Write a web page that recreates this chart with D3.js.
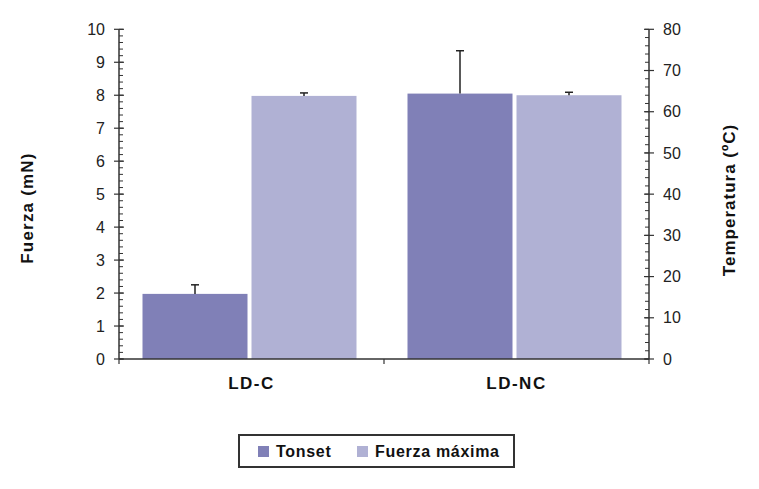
<!DOCTYPE html>
<html><head><meta charset="utf-8">
<script src="https://cdn.jsdelivr.net/npm/d3@7"></script>
<style>body{margin:0;background:#fff}svg{display:block}text{font-family:Arial,"Liberation Sans",sans-serif}</style>
</head><body>
<script>
const categories = ["LD-C", "LD-NC"];
const seriesNames = ["Tonset", "Fuerza máxima"];
const tonsetC = [15.8, 64.4];        // temperature, right axis
const tonsetErr = [2.2, 10.4];
const fuerzaMN = [7.98, 8.0];        // force, left axis
const fuerzaErr = [0.09, 0.09];
const leftTicks = [0,1,2,3,4,5,6,7,8,9,10];
const rightTicks = [0,10,20,30,40,50,60,70,80];

const W = 759, H = 489;
const x0 = 119, x1 = 649, yTop = 29.3, yBot = 359;
const colors = ["#8080b7", "#b0b1d4"];
const axisColor = "#333";

const svg = d3.select("body").append("svg").attr("width", W).attr("height", H);

const x = d3.scaleBand().domain(categories).range([x0, x1]).paddingInner(0).paddingOuter(0);
const yL = d3.scaleLinear().domain([0, 10]).range([yBot, yTop]);
const yR = d3.scaleLinear().domain([0, 80]).range([yBot, yTop]);

const barW = 105, gap = 4;
const rows = categories.map((c, i) => [
  {c, s: 0, y: yR(tonsetC[i]), e: yR(tonsetC[i] + tonsetErr[i])},
  {c, s: 1, y: yL(fuerzaMN[i]), e: yL(fuerzaMN[i] + fuerzaErr[i])}
]).flat();
const bx = d => x(d.c) + x.bandwidth()/2 - 2 + (d.s === 0 ? -gap/2 - barW : gap/2);

svg.selectAll("rect.bar").data(rows).enter().append("rect")
  .attr("x", bx).attr("y", d => d.y).attr("width", barW).attr("height", d => yBot - d.y)
  .attr("fill", d => colors[d.s]);

// error bars
const eg = svg.selectAll("g.err").data(rows).enter().append("g").attr("stroke", "#222").attr("stroke-width", 1.5);
eg.append("line").attr("x1", d => bx(d) + barW/2).attr("x2", d => bx(d) + barW/2).attr("y1", d => d.y).attr("y2", d => d.e);
eg.append("line").attr("x1", d => bx(d) + barW/2 - 4).attr("x2", d => bx(d) + barW/2 + 4).attr("y1", d => d.e).attr("y2", d => d.e);

// left axis
const gL = svg.append("g").attr("transform", `translate(${x0},0)`);
gL.append("line").attr("y1", yTop).attr("y2", yBot).attr("stroke", axisColor).attr("stroke-width", 1.5);
gL.selectAll("line.minor").data(d3.range(0, 10.001, 0.2)).enter().append("line")
  .attr("x1", 0).attr("x2", 4).attr("y1", d => yL(d)).attr("y2", d => yL(d)).attr("stroke", axisColor).attr("stroke-width", 1);
gL.selectAll("line.major").data(leftTicks).enter().append("line")
  .attr("x1", -5).attr("x2", 5).attr("y1", d => yL(d)).attr("y2", d => yL(d)).attr("stroke", axisColor).attr("stroke-width", 1.2);
gL.selectAll("text").data(leftTicks).enter().append("text")
  .attr("x", -14).attr("y", d => yL(d)).attr("dy", "0.35em").attr("text-anchor", "end")
  .attr("font-size", 16).attr("fill", "#222").text(d => d);

// right axis
const gR = svg.append("g").attr("transform", `translate(${x1},0)`);
gR.append("line").attr("y1", yTop).attr("y2", yBot).attr("stroke", axisColor).attr("stroke-width", 1.5);
gR.selectAll("line.minor").data(d3.range(0, 80.001, 2)).enter().append("line")
  .attr("x1", -4).attr("x2", 0).attr("y1", d => yR(d)).attr("y2", d => yR(d)).attr("stroke", axisColor).attr("stroke-width", 1);
gR.selectAll("line.major").data(rightTicks).enter().append("line")
  .attr("x1", -5).attr("x2", 5).attr("y1", d => yR(d)).attr("y2", d => yR(d)).attr("stroke", axisColor).attr("stroke-width", 1.2);
gR.selectAll("text").data(rightTicks).enter().append("text")
  .attr("x", 14).attr("y", d => yR(d)).attr("dy", "0.35em").attr("text-anchor", "start")
  .attr("font-size", 16).attr("fill", "#222").text(d => d);

// bottom axis
svg.append("line").attr("x1", x0).attr("x2", x1).attr("y1", yBot).attr("y2", yBot).attr("stroke", axisColor).attr("stroke-width", 1.5);
const bticks = [x0, ...categories.slice(1).map(c => x(c)), x1];
svg.selectAll("line.bt").data(bticks).enter().append("line")
  .attr("x1", d => d).attr("x2", d => d).attr("y1", yBot).attr("y2", yBot + 5).attr("stroke", axisColor).attr("stroke-width", 1.2);
svg.selectAll("text.cat").data(categories).enter().append("text")
  .attr("x", d => x(d) + x.bandwidth()/2).attr("y", 389).attr("text-anchor", "middle")
  .attr("font-size", 17).attr("letter-spacing", "1.5px").attr("font-weight", "bold").attr("fill", "#111").text(d => d);

// axis titles
svg.append("text").attr("transform", "translate(33,208) rotate(-90)").attr("text-anchor", "middle")
  .attr("font-size", 17).attr("letter-spacing", "1.2px").attr("font-weight", "bold").attr("fill", "#111").text("Fuerza (mN)");
svg.append("text").attr("transform", "translate(735,200) rotate(-90)").attr("text-anchor", "middle")
  .attr("font-size", 17).attr("letter-spacing", "1px").attr("font-weight", "bold").attr("fill", "#111").text("Temperatura (ºC)");

// legend
const lg = svg.append("g");
lg.append("rect").attr("x", 239).attr("y", 435).attr("width", 275).attr("height", 32)
  .attr("fill", "#fff").attr("stroke", "#333").attr("stroke-width", 2);
const lx = [258, 357];
seriesNames.forEach((n, i) => {
  lg.append("rect").attr("x", lx[i]).attr("y", 446).attr("width", 11).attr("height", 11).attr("fill", colors[i]);
  lg.append("text").attr("x", lx[i] + 18).attr("y", 457).attr("font-size", 16).attr("letter-spacing", "0.7px").attr("font-weight", "bold").attr("fill", "#111").text(n);
});
</script>
</body></html>
